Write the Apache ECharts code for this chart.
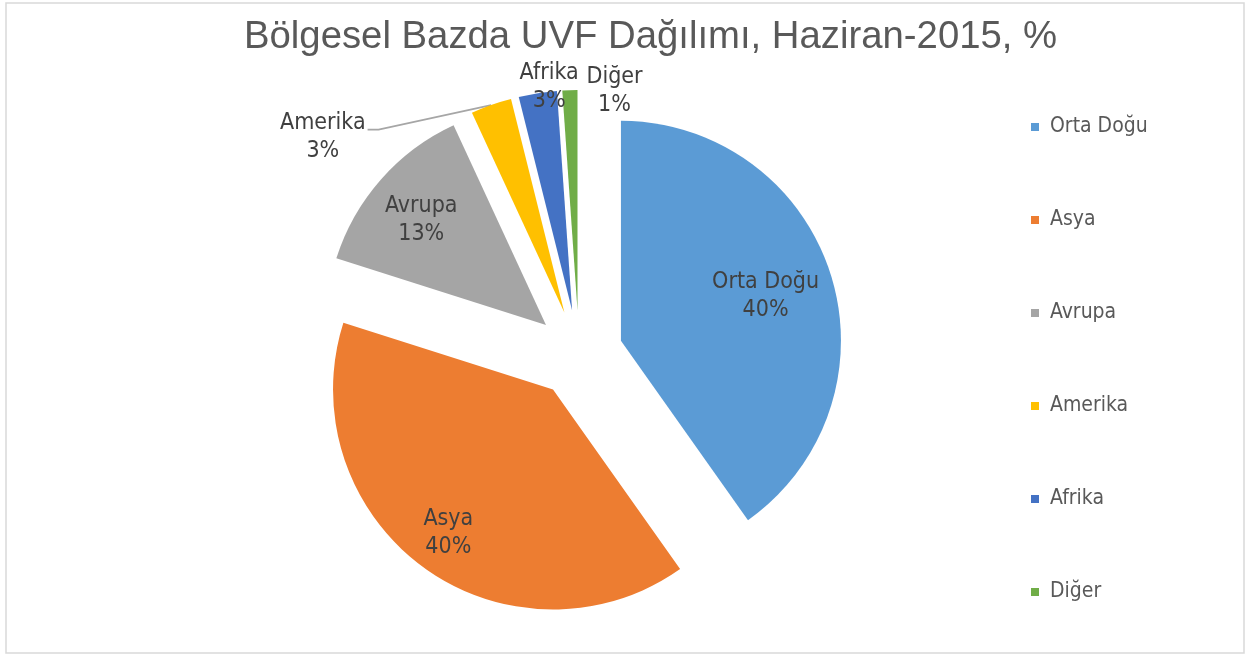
<!DOCTYPE html>
<html>
<head>
<meta charset="utf-8">
<script src="https://cdn.jsdelivr.net/npm/echarts@6/dist/echarts.min.js"></script>
<style>
  html, body { margin: 0; padding: 0; background: #fff; }
  #chart { width: 1245px; height: 655px; }
</style>
</head>
<body>
<div id="chart"></div>
<script>
// regions and their share (%), June 2015
var regions = ['Orta Doğu', 'Asya', 'Avrupa', 'Amerika', 'Afrika', 'Diğer'];
var shares = [40.2, 39.7, 13.2, 3.0, 2.8, 1.1];
var colors = ['#5B9BD5', '#ED7D31', '#A5A5A5', '#FFC000', '#4472C4', '#70AD47'];

// label placement tweaks (px), per slice
var labelPos = ['inside', 'inside', 'inside', 'outside', 'outside', 'outside'];
var labelDx = [37, -38, -40, -150, 28, 60];
var labelDy = [-10, 52, -30, 41, 4, 11];

var labelFont = '"Liberation Sans Narrow", "DejaVu Sans Condensed", "Open Sans", sans-serif';

var chart = echarts.init(document.getElementById('chart'));

var pieData = regions.map(function (name, i) {
  return {
    name: name,
    value: shares[i],
    selected: true,
    itemStyle: { color: colors[i] },
    label: { position: labelPos[i] },
    labelLine: { show: i === 3 }
  };
});

var option = {
  title: {
    text: 'Bölgesel Bazda UVF Dağılımı, Haziran-2015, %',
    left: 239,
    top: 13,
    textStyle: {
      fontFamily: '"Liberation Sans", Arial, sans-serif',
      fontSize: 38.3,
      fontWeight: 'normal',
      color: '#595959'
    }
  },
  legend: {
    orient: 'vertical',
    left: 1026,
    top: 110,
    itemWidth: 8,
    itemHeight: 8,
    itemGap: 69,
    icon: 'rect',
    selectedMode: false,
    textStyle: {
      fontFamily: labelFont,
      fontSize: 21,
      lineHeight: 24,
      color: '#595959',
      padding: [0, 0, 0, 6]
    },
    data: regions
  },
  graphic: [{
    type: 'rect',
    shape: { x: 6, y: 3, width: 1238, height: 650 },
    style: { fill: 'none', stroke: '#d9d9d9', lineWidth: 1.5 },
    silent: true
  }],
  series: [{
    type: 'pie',
    center: [579, 354],
    radius: [0, 220],
    startAngle: 90,
    clockwise: true,
    selectedMode: 'multiple',
    selectedOffset: 44,
    avoidLabelOverlap: false,
    animation: false,
    select: { itemStyle: { borderWidth: 0 } },
    emphasis: { disabled: true },
    label: {
      fontFamily: labelFont,
      fontSize: 23,
      lineHeight: 28,
      color: '#404040',
      formatter: function (p) {
        return p.name + '\n' + Math.round(p.percent) + '%';
      }
    },
    labelLine: {
      length: 10,
      length2: 10,
      lineStyle: { color: '#a6a6a6', width: 1.8 }
    },
    labelLayout: function (p) {
      var i = p.dataIndex;
      var res = { dx: labelDx[i], dy: labelDy[i], align: 'center' };
      if (p.labelLinePoints && labelPos[i] === 'outside') {
        // leader line: from slice edge to the right side of the moved label
        var r = p.labelRect;
        var right = r.x + r.width + labelDx[i] + r.width / 2;
        var y = r.y + r.height / 2 + labelDy[i] - 7;
        res.labelLinePoints = [
          p.labelLinePoints[0],
          [right + 13, y],
          [right + 2, y]
        ];
      }
      return res;
    },
    data: pieData
  }]
};

chart.setOption(option);
window.addEventListener('resize', function () {
  chart.resize();
});
</script>
</body>
</html>
